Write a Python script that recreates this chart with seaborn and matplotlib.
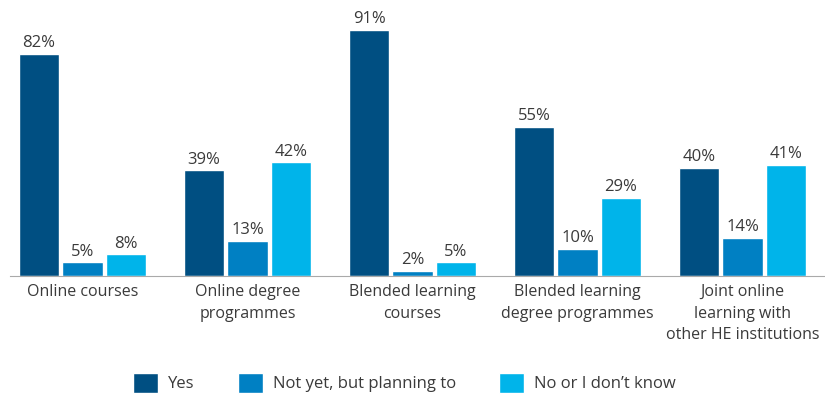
import matplotlib
matplotlib.use("Agg")
import matplotlib.pyplot as plt
import seaborn as sns
import pandas as pd

categories = ["Online courses", "Online degree\nprogrammes", "Blended learning\ncourses",
              "Blended learning\ndegree programmes", "Joint online\nlearning with\nother HE institutions"]
series_names = ["Yes", "Not yet, but planning to", "No or I don\u2019t know"]
yes = [82, 39, 91, 55, 40]
planning = [5, 13, 2, 10, 14]
no_dk = [8, 42, 5, 29, 41]
colors = ["#004f82", "#0080c3", "#00b4ea"]

rows = []
for name, vals in zip(series_names, [yes, planning, no_dk]):
    for c, v in zip(categories, vals):
        rows.append({"cat": c, "series": name, "value": v})
df = pd.DataFrame(rows)

sns.set_style("white")
plt.rcParams["font.family"] = ["Open Sans", "DejaVu Sans"]
txt = "#3a3a3a"

fig = plt.figure(figsize=(8.25, 3.97), dpi=100)
ax = fig.add_axes([0.0, 1 - 276 / 397, 1.0, 276 / 397])
sns.barplot(data=df, x="cat", y="value", hue="series", order=categories,
            hue_order=series_names, palette=colors, width=0.79, gap=0.07,
            ax=ax, legend=True, saturation=1)
ax.set_xlim(-0.5, 4.5)
ax.set_ylim(0, 102)
for cont in ax.containers:
    ax.bar_label(cont, labels=[f"{int(b.get_height())}%" for b in cont],
                 padding=2, fontsize=12, color=txt)

ax.set_xlabel("")
ax.set_ylabel("")
ax.set_yticks([])
ax.set_xticks(range(5))
ax.set_xticklabels(categories, fontsize=11.5, color=txt, linespacing=1.45)
ax.tick_params(axis="x", length=0, pad=6)
ax.set_xticks([0.5, 1.5, 2.5, 3.5], minor=True)
ax.tick_params(axis="x", which="minor", direction="in", length=5, color="#bbbbbb", width=1)
for s in ["top", "right", "left"]:
    ax.spines[s].set_visible(False)
ax.spines["bottom"].set_color("#aaaaaa")
ax.spines["bottom"].set_bounds(-0.44, 4.5)

handles, labels = ax.get_legend_handles_labels()
ax.get_legend().remove()
fig.legend(handles, labels, loc="lower center", bbox_to_anchor=(0.49, -0.028), ncol=3,
           frameon=False, fontsize=12, handlelength=1.5, handleheight=1.5,
           columnspacing=2.6, handletextpad=0.6, labelcolor=txt)

fig.savefig("out.png", dpi=100)
